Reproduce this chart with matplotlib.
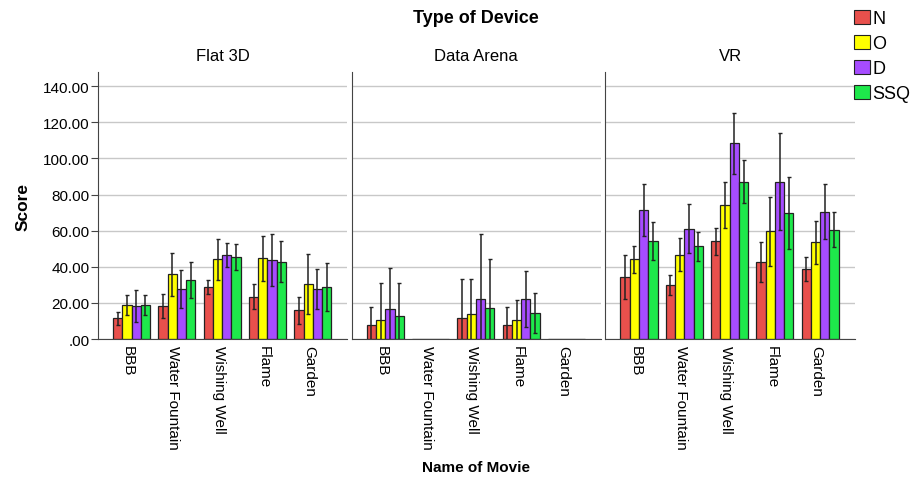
"""Grouped bar chart of scores per movie, split by device type."""

import matplotlib

matplotlib.use("Agg")
import matplotlib.pyplot as plt
import numpy as np
from matplotlib.patches import Patch

plt.rcParams["font.family"] = ["Liberation Sans", "DejaVu Sans"]

devices = ["Flat 3D", "Data Arena", "VR"]
movies = ["BBB", "Water Fountain", "Wishing Well", "Flame", "Garden"]
measures = ["N", "O", "D", "SSQ"]
colors = ["#E8504C", "#FFFF00", "#A64CFF", "#1EE84B"]

# mean score per measure, one row per movie
flat3d_mean = {
    "N": [11.5, 18.5, 28.9, 23.5, 15.9],
    "O": [18.7, 35.9, 44.1, 44.8, 30.4],
    "D": [18.3, 27.6, 46.5, 43.9, 27.8],
    "SSQ": [18.9, 32.6, 45.4, 42.9, 28.7],
}
flat3d_err = {
    "N": [3.5, 6.6, 4.0, 6.8, 7.3],
    "O": [5.5, 12.0, 11.5, 12.5, 16.5],
    "D": [8.8, 10.6, 6.5, 14.5, 11.2],
    "SSQ": [5.3, 10.1, 7.4, 11.2, 13.3],
}
arena_mean = {
    "N": [7.8, 0.0, 11.5, 7.8, 0.0],
    "O": [10.6, 0.0, 13.7, 10.6, 0.0],
    "D": [16.9, 0.0, 22.4, 22.4, 0.0],
    "SSQ": [13.0, 0.0, 17.2, 14.3, 0.0],
}
arena_err = {
    "N": [10.0, 0.0, 21.5, 10.0, 0.0],
    "O": [20.7, 0.0, 19.6, 10.9, 0.0],
    "D": [22.7, 0.0, 35.9, 15.5, 0.0],
    "SSQ": [18.3, 0.0, 26.9, 11.1, 0.0],
}
vr_mean = {
    "N": [34.3, 29.8, 54.1, 42.6, 38.7],
    "O": [44.1, 46.8, 74.3, 59.6, 53.5],
    "D": [71.3, 61.1, 108.5, 87.2, 70.6],
    "SSQ": [54.3, 51.3, 87.2, 69.6, 60.6],
}
vr_err = {
    "N": [12.0, 5.5, 7.6, 11.2, 6.8],
    "O": [7.3, 9.0, 12.9, 18.9, 12.1],
    "D": [14.5, 13.7, 16.9, 26.8, 15.3],
    "SSQ": [10.7, 7.9, 12.0, 20.0, 9.8],
}

panels = [
    (flat3d_mean, flat3d_err),
    (arena_mean, arena_err),
    (vr_mean, vr_err),
]

fig, axes = plt.subplots(1, 3, figsize=(9.16, 4.81), dpi=100, sharey=True)
fig.subplots_adjust(left=0.107, right=0.933, bottom=0.293, top=0.848, wspace=0.018)

x = np.arange(len(movies))
width = 0.205
for i, (ax, device) in enumerate(zip(axes, devices)):
    means, errs = panels[i]
    ax.set_axisbelow(True)
    ax.yaxis.grid(True, color="#c8c8c8", linewidth=1.0)
    for k, m in enumerate(measures):
        pos = x + (k - 1.5) * width
        ax.bar(pos, means[m], width, color=colors[k], edgecolor="#222222",
               linewidth=0.9, zorder=2)
        err = np.array(errs[m])
        has_err = err > 0
        ax.errorbar(pos[has_err], np.array(means[m])[has_err], yerr=err[has_err],
                    fmt="none", ecolor="#222222", elinewidth=1.1, capsize=1.5,
                    capthick=1.0, zorder=3)
    ax.set_xlim(-0.74, 4.76)
    ax.set_ylim(0, 147.8)
    ax.set_title(device, fontsize=12, pad=9)
    ax.set_xticks(x - 0.08)
    ax.set_xticklabels(movies, rotation=-90, fontsize=11, va="top", ha="center")
    ax.tick_params(axis="x", length=0, pad=4)
    for side in ("top", "right"):
        ax.spines[side].set_visible(False)
    ax.spines["left"].set_color("#444444")
    ax.spines["bottom"].set_color("#444444")
    if i > 0:
        ax.tick_params(axis="y", length=0)

axes[0].set_yticks(np.arange(0, 141, 20))
axes[0].set_yticklabels([".00"] + [f"{v:.2f}" for v in range(20, 141, 20)], fontsize=11)
axes[0].tick_params(axis="y", length=5, pad=1, color="#444444")
axes[0].set_ylabel("Score", fontsize=12.5, fontweight="bold", labelpad=9)

fig.text(0.52, 0.962, "Type of Device", fontsize=13, fontweight="bold",
         ha="center", va="center")
fig.text(0.52, 0.027, "Name of Movie", fontsize=11, fontweight="bold",
         ha="center", va="center")

handles = [Patch(facecolor=c, edgecolor="#222222", linewidth=0.8) for c in colors]
fig.legend(handles, measures, loc="upper left", bbox_to_anchor=(0.921, 1.0),
           frameon=False, fontsize=13, handlelength=0.85, handleheight=0.85,
           handletextpad=0.15, labelspacing=0.42, borderaxespad=0.2)

fig.savefig("out.png", dpi=100)
